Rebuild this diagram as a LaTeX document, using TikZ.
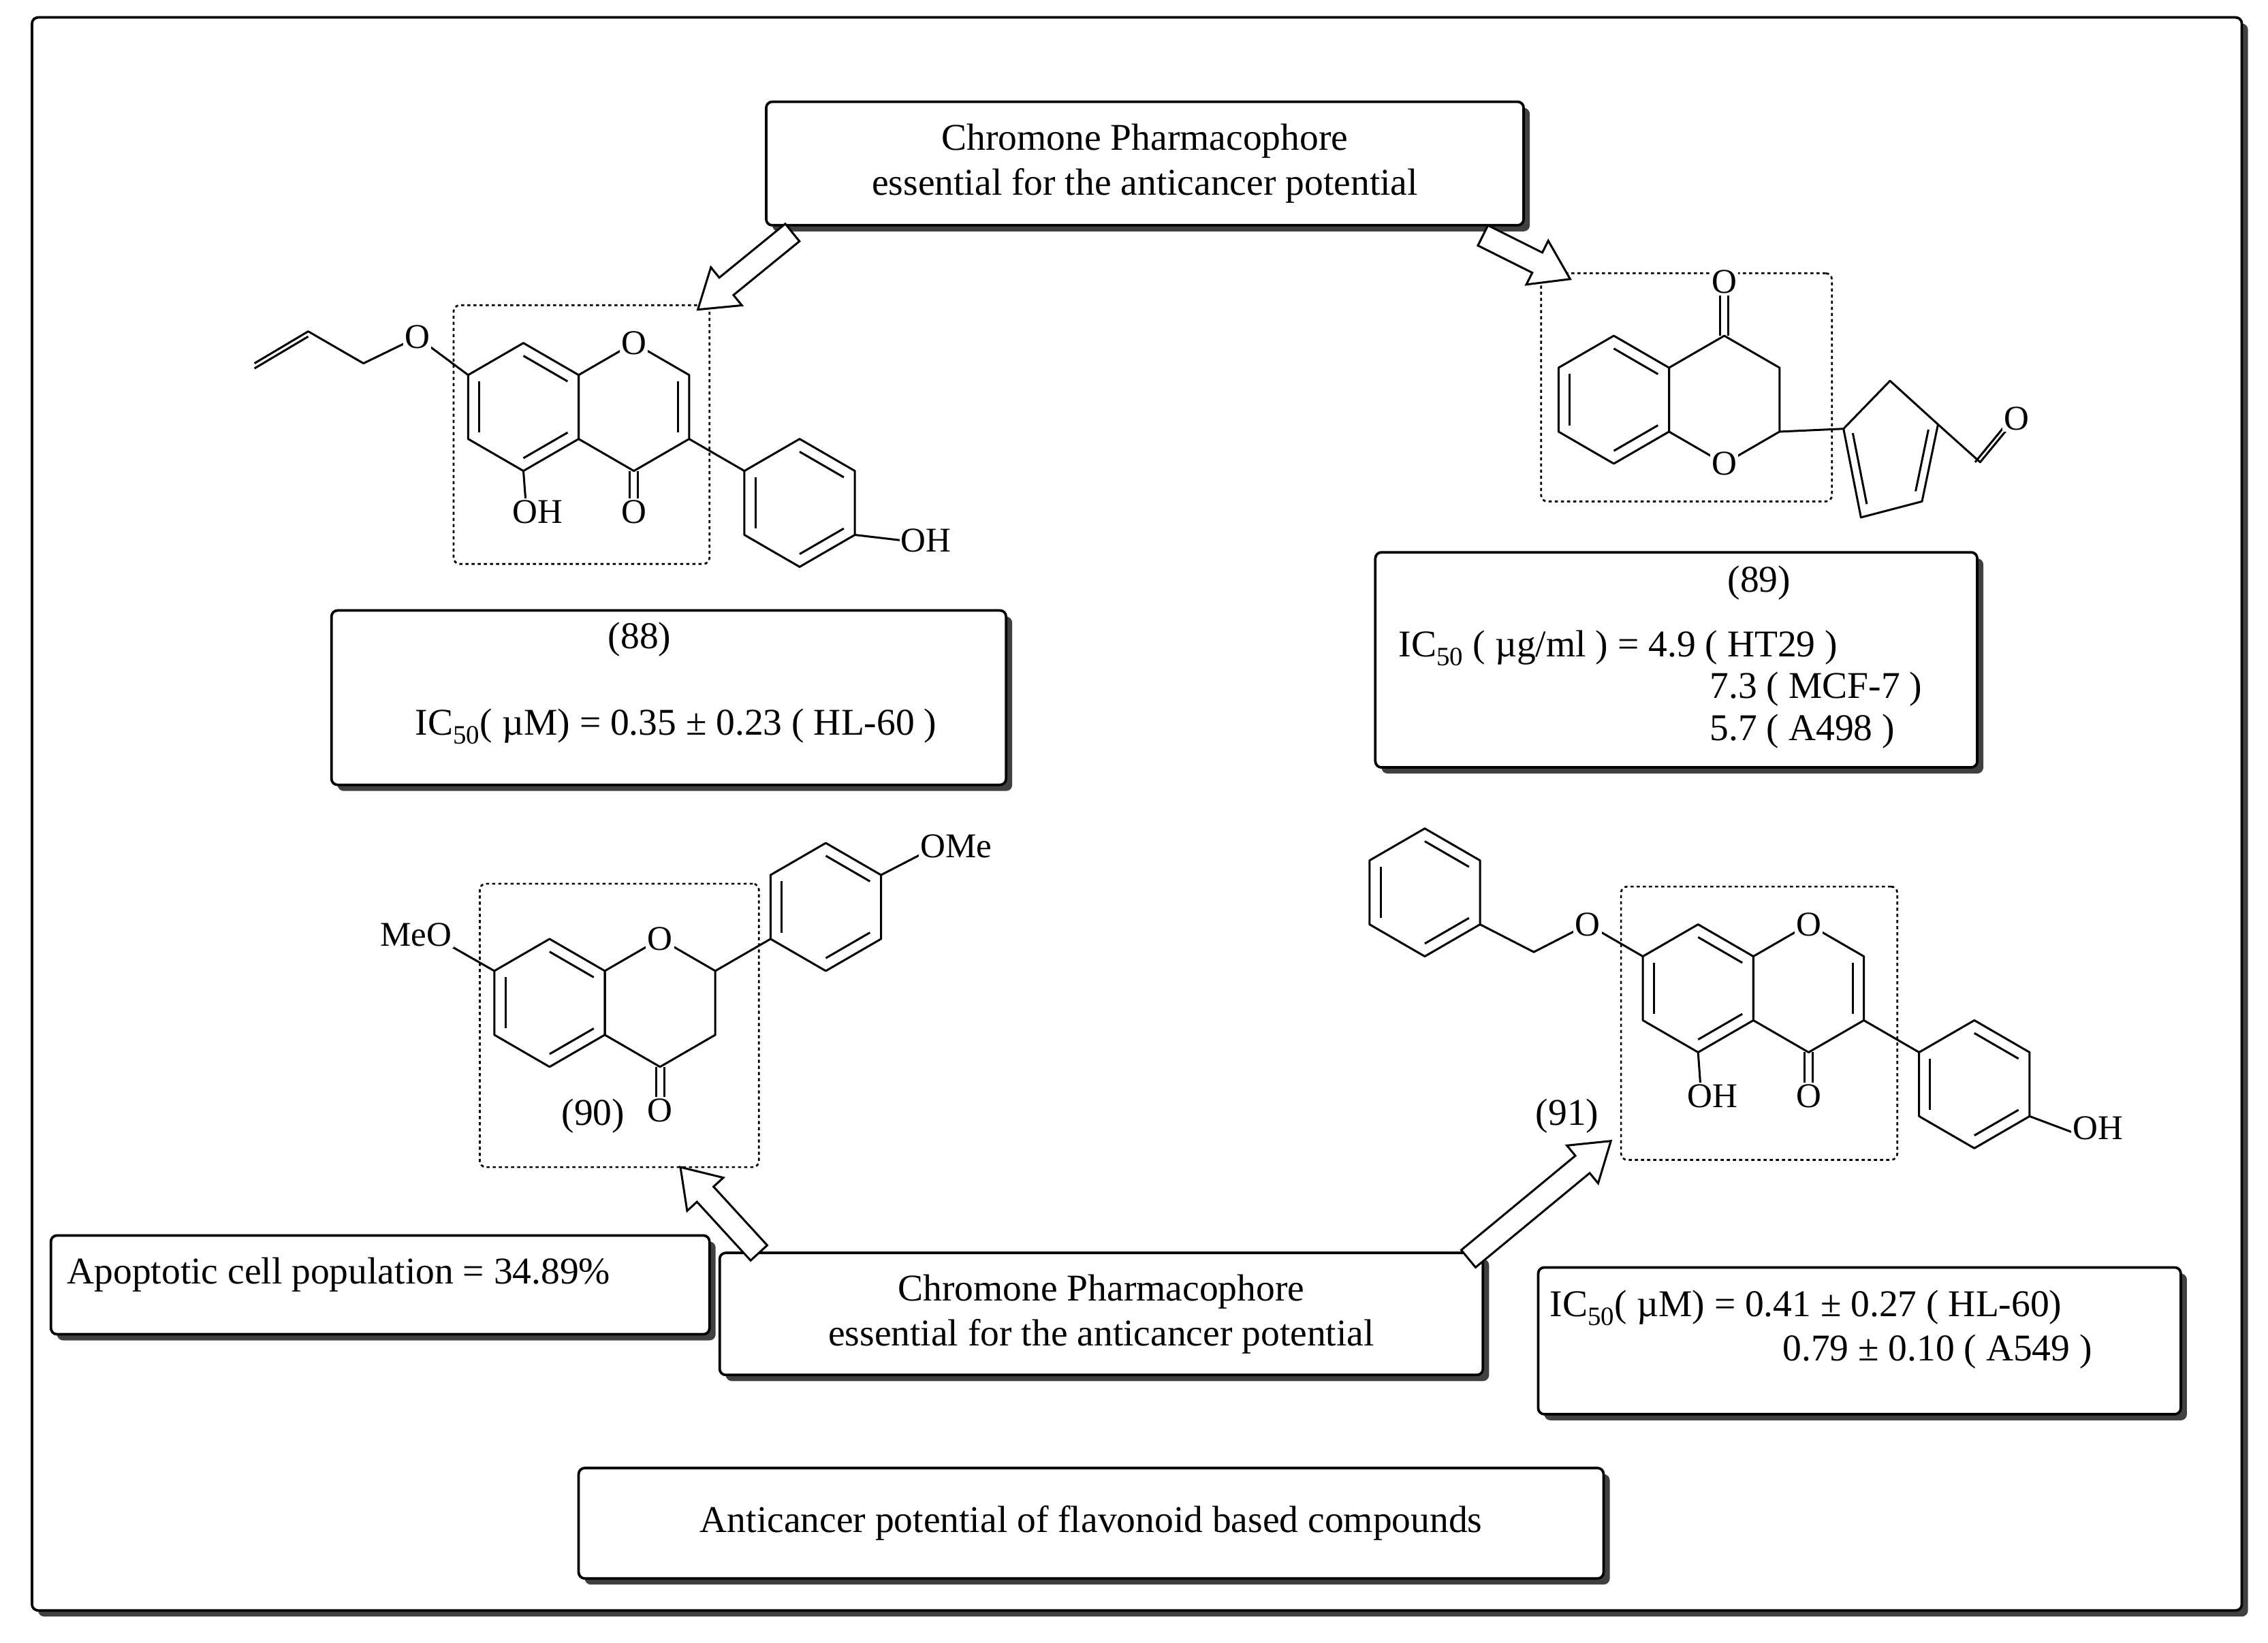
\documentclass[tikz,border=0pt]{standalone}
\usepackage{fontspec}
\setmainfont{Liberation Serif}
\usetikzlibrary{calc,shadows,fit}
\newcommand\hexa[3]{%
 \coordinate (#1c) at (#2,#3);
 \coordinate (#11) at ($(#1c)+(0,-44)$);
 \coordinate (#12) at ($(#1c)+(38,-22)$);
 \coordinate (#13) at ($(#1c)+(38,22)$);
 \coordinate (#14) at ($(#1c)+(0,44)$);
 \coordinate (#15) at ($(#1c)+(-38,22)$);
 \coordinate (#16) at ($(#1c)+(-38,-22)$);
 \draw[bond] (#11)--(#12)--(#13)--(#14)--(#15)--(#16)--cycle;}
\newcommand\inner[3]{\draw[bond] ($(#1)!0.2!(#3)$)--($(#2)!0.2!(#3)$);}
\newcommand\harrow[2]{%
 \coordinate (hc) at ($(#2)!36pt!(#1)$);
 \draw[line width=2pt,fill=white] ($(#1)!11pt!90:(#2)$) -- ($(hc)!11pt!-90:(#1)$) -- ($(hc)!24pt!-90:(#1)$) -- (#2) -- ($(hc)!24pt!90:(#1)$) -- ($(hc)!11pt!90:(#1)$) -- ($(#1)!11pt!-90:(#2)$) -- cycle;}
\begin{document}
\begin{tikzpicture}[x=0.05cm,y=-0.05cm,
 bond/.style={line width=2pt,line join=round},
 box/.style={draw,line width=2.5pt,rounded corners=6pt,fill=white,inner sep=0pt,
   drop shadow={shadow xshift=6pt,shadow yshift=-6pt,fill=black!75,opacity=1}},
 dbox/.style={draw,dashed,line width=1.8pt,rounded corners=6pt,inner sep=0pt},
 txt/.style={font=\fontsize{37}{44}\selectfont,align=center,inner sep=0pt},
 atom/.style={font=\fontsize{34}{36}\selectfont,fill=white,inner sep=1.5pt}]
\useasboundingbox (0,0) rectangle (1560,1130);
% outer frame
\node[box,fit={(22,12)(1542,1108)}] (frame) {};
% dashed boxes
\node[dbox,fit={(312,210)(488,388)}] (d88) {};
\node[dbox,fit={(1060,188)(1260,345)}] (d89) {};
\node[dbox,fit={(330,608)(522,803)}] (d90) {};
\node[dbox,fit={(1115,610)(1305,798)}] (d91) {};
% text boxes
\node[box,fit={(527,70)(1048,155)}] (top) {};
\node[txt] at (top.center) {Chromone Pharmacophore\\essential for the anticancer potential};
\node[box,fit={(228,420)(692,540)}] (b88) {};
\node[txt] (t88a) at (440,440) {(88)};
\node[txt] (t88b) at (465,500) {IC\textsubscript{50}( µM) = 0.35 ± 0.23 ( HL-60 )};
\node[box,fit={(946,380)(1360,528)}] (b89) {};
\node[txt] at (1210,401) {(89)};
\node[txt,anchor=west] at (962,446) {IC\textsubscript{50} ( µg/ml ) = 4.9 ( HT29 )};
\node[txt,anchor=west] at (1176,474) {7.3 ( MCF-7 )};
\node[txt,anchor=west] at (1176,503) {5.7 ( A498 )};
\node[box,fit={(35,850)(488,918)}] (bap) {};
\node[txt,anchor=west] at (46,877) {Apoptotic cell population = 34.89\%};
\node[box,fit={(1058,872)(1500,973)}] (b91) {};
\node[txt,anchor=west] at (1066,900) {IC\textsubscript{50}( µM) = 0.41 ± 0.27 ( HL-60)};
\node[txt,anchor=west] at (1226,930) {0.79 ± 0.10 ( A549 )};
\node[box,fit={(495,862)(1020,946)}] (bot) {};
\node[txt] at (bot.center) {Chromone Pharmacophore\\essential for the anticancer potential};
\node[box,fit={(398,1010)(1103,1086)}] (cap) {};
\node[txt] at (cap.center) {Anticancer potential of flavonoid based compounds};
% hollow arrows
\coordinate (a1s) at (545,160); \coordinate (a1e) at (480,213);
\coordinate (a2s) at (1020,162); \coordinate (a2e) at (1080,192);
\coordinate (a3s) at (522,862); \coordinate (a3e) at (468,803);
\coordinate (a4s) at (1010,866); \coordinate (a4e) at (1108,785);
\harrow{a1s}{a1e}\harrow{a2s}{a2e}\harrow{a3s}{a3e}\harrow{a4s}{a4e}
% ---------- molecule 88
\hexa{A}{360}{280}\hexa{B}{436}{280}\hexa{P}{550}{346}
\inner{A1}{A2}{Ac}\inner{A3}{A4}{Ac}\inner{A5}{A6}{Ac}
\inner{B2}{B3}{Bc}
\inner{P1}{P2}{Pc}\inner{P3}{P4}{Pc}\inner{P5}{P6}{Pc}
\coordinate (oA) at (287,232);
\draw[bond] (A6)--(oA)--(250,250)--(212,228)--(175,250);
\draw[bond] ([yshift=-5pt]212,228)--([yshift=-5pt]175,250);
\draw[bond] (A4)--(362,350);
\draw[bond] ([xshift=-4pt]B4)--([xshift=-4pt]436,346);
\draw[bond] ([xshift=4pt]B4)--([xshift=4pt]436,346);
\draw[bond] (B3)--(P6);
\draw[bond] (P3)--(622,372);
\node[atom] at (oA) {O};
\node[atom] at (B1) {O};
\node[atom] at (370,352) {OH};
\node[atom] at (436,352) {O};
\node[atom] at (637,372) {OH};
% ---------- molecule 89
\hexa{C}{1110}{275}\hexa{D}{1186}{275}
\inner{C1}{C2}{Cc}\inner{C3}{C4}{Cc}\inner{C5}{C6}{Cc}
\draw[bond] ([xshift=-4pt]D1)--([xshift=-4pt]1186,200);
\draw[bond] ([xshift=4pt]D1)--([xshift=4pt]1186,200);
\coordinate (pA) at (1268,295); \coordinate (pB) at (1300,262);
\coordinate (pC) at (1333,292); \coordinate (pD) at (1322,345);
\coordinate (pE) at (1280,356);
\coordinate (pM) at (1300,310);
\draw[bond] (D3)--(pA);
\draw[bond] (pA)--(pB)--(pC)--(pD)--(pE)--cycle;
\inner{pA}{pE}{pM}
\inner{pC}{pD}{pM}
\draw[bond] (pC)--(1362,318)--(1385,290);
\draw[bond] ([xshift=-5pt]1362,318)--([xshift=-5pt]1385,290);
\node[atom] at (1186,194) {O};
\node[atom] at (D4) {O};
\node[atom] at (1387,288) {O};
% ---------- molecule 90
\hexa{E}{378}{690}\hexa{F}{454}{690}\hexa{G}{568}{624}
\inner{E1}{E2}{Ec}\inner{E3}{E4}{Ec}\inner{E5}{E6}{Ec}
\inner{G1}{G2}{Gc}\inner{G3}{G4}{Gc}\inner{G5}{G6}{Gc}
\draw[bond] (E6)--(305,648);
\draw[bond] (F2)--(G5);
\draw[bond] (G2)--(635,587);
\draw[bond] ([xshift=-4pt]F4)--([xshift=-4pt]454,758);
\draw[bond] ([xshift=4pt]F4)--([xshift=4pt]454,758);
\node[atom,anchor=east] at (312,643) {MeO};
\node[atom] at (F1) {O};
\node[atom] at (454,764) {O};
\node[atom,anchor=west] at (632,582) {OMe};
\node[txt,fill=white,inner sep=1pt] at (408,768) {(90)};
% ---------- molecule 91
\hexa{H}{1168}{680}\hexa{I}{1244}{680}\hexa{J}{980}{614}\hexa{K}{1358}{746}
\inner{H1}{H2}{Hc}\inner{H3}{H4}{Hc}\inner{H5}{H6}{Hc}
\inner{I2}{I3}{Ic}
\inner{J1}{J2}{Jc}\inner{J3}{J4}{Jc}\inner{J5}{J6}{Jc}
\inner{K1}{K2}{Kc}\inner{K3}{K4}{Kc}\inner{K5}{K6}{Kc}
\coordinate (oH) at (1092,636);
\draw[bond] (H6)--(oH)--(1055,655)--(J3);
\draw[bond] (H4)--(1170,752);
\draw[bond] ([xshift=-4pt]I4)--([xshift=-4pt]1244,748);
\draw[bond] ([xshift=4pt]I4)--([xshift=4pt]1244,748);
\draw[bond] (I3)--(K6);
\draw[bond] (K3)--(1428,780);
\node[atom] at (oH) {O};
\node[atom] at (I1) {O};
\node[atom] at (1178,754) {OH};
\node[atom] at (1244,754) {O};
\node[atom] at (1443,776) {OH};
\node[txt,fill=white,inner sep=1pt] at (1078,768) {(91)};
\end{tikzpicture}
\end{document}
